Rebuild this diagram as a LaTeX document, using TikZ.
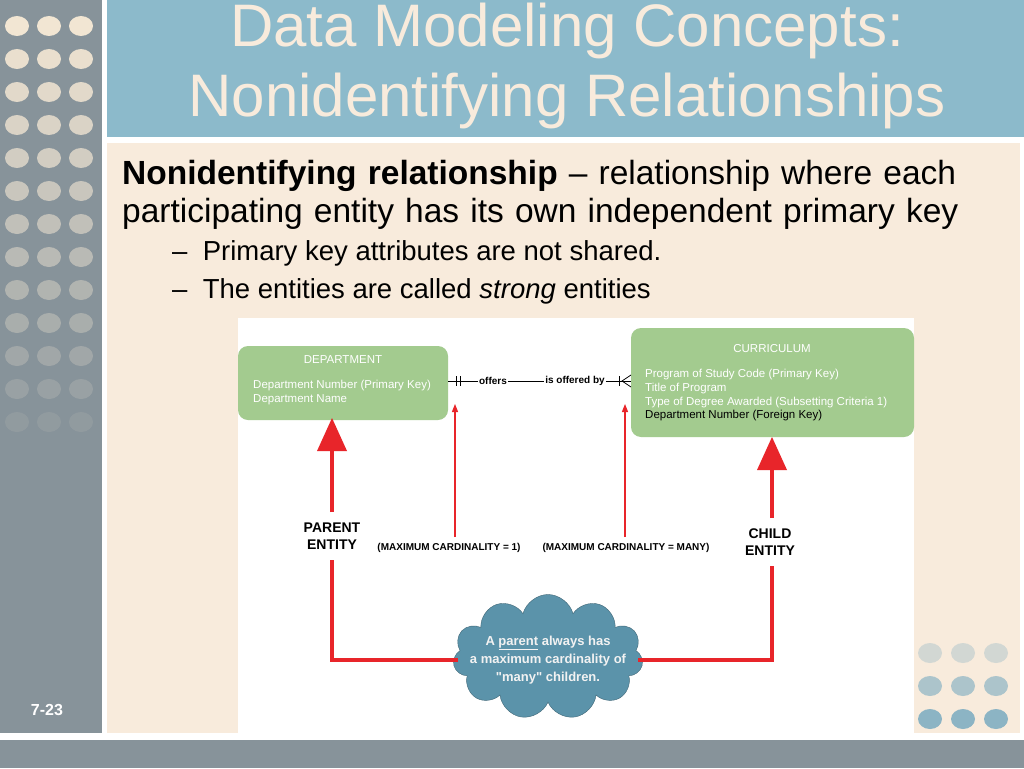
\documentclass[tikz,border=0pt]{standalone}
\usepackage{fontspec}
\setmainfont{Liberation Sans}
\usetikzlibrary{shapes.symbols,arrows.meta}
\definecolor{side}{HTML}{87939A}
\definecolor{band}{HTML}{8CBACB}
\definecolor{paper}{HTML}{F8EBDC}
\definecolor{ent}{HTML}{A3CB8F}
\definecolor{cloudc}{HTML}{5B93AA}
\definecolor{arr}{HTML}{E8252A}
\definecolor{dot}{HTML}{F2E6D3}
\tikzset{
 entbox/.style={fill=ent,rounded corners=10pt,draw=none},
 thick arr/.style={draw=arr,line width=4pt},
 thin arr/.style={draw=arr,line width=1.2pt,-{Triangle[length=8pt,width=6pt]}},
 lbl/.style={font=\bfseries\fontsize{14pt}{17pt}\selectfont,align=center,inner sep=1pt},
 small/.style={font=\bfseries\fontsize{10pt}{11pt}\selectfont,inner sep=1pt},
 etxt/.style={font=\fontsize{11.5pt}{13.8pt}\selectfont,text=white,align=left,inner sep=0pt},
}
\begin{document}
\begin{tikzpicture}[x=1pt,y=-1pt]
\useasboundingbox (0,0) rectangle (1024,768);
\fill[white] (0,0) rectangle (1024,768);
\fill[side] (0,0) rectangle (102,733);
\fill[band] (107,0) rectangle (1024,137);
\fill[paper] (107,143) rectangle (1020,733);
\fill[side] (0,740) rectangle (1024,768);
\foreach \r in {0,...,12}{
 \pgfmathsetmacro{\op}{max(0,1-\r*0.075)}
 \foreach \c in {17,49,81}{
  \fill[dot,opacity=\op] (\c,26+\r*33) ellipse (12pt and 10pt);
 }}
\foreach \r/\op in {0/0.35,1/0.7,2/1}{
 \foreach \c in {930,963,996}{
  \fill[cloudc!70!white,opacity=\op] (\c,653+\r*33) ellipse (12pt and 10pt);
 }}
\node[text=white] (pg) at (47,710) {\bfseries\fontsize{16pt}{18pt}\selectfont 7-23};
\node[text=paper,align=center,font=\fontsize{60pt}{70pt}\selectfont] (title) at (567,66) {Data Modeling Concepts:\\Nonidentifying Relationships};
\node[anchor=north west,align=left,text width=870pt,font=\fontsize{33.5pt}{38pt}\selectfont,inner sep=0pt] (body) at (122,160)
 {\raggedright\textbf{Nonidentifying relationship} -- relationship where each\\participating entity has its own independent primary key};
\node[anchor=north west,font=\fontsize{27.5pt}{30pt}\selectfont,inner sep=0pt] (b1) at (172,240) {--\ \ Primary key attributes are not shared.};
\node[anchor=north west,font=\fontsize{27.5pt}{30pt}\selectfont,inner sep=0pt] (b2) at (172,278) {--\ \ The entities are called \textit{strong} entities};
\fill[white] (238,318) rectangle (914,733);
\fill[entbox] (238,346) rectangle (448,420);
\fill[entbox] (631,328) rectangle (914,437);
\node[etxt] (dh) at (343,360) {DEPARTMENT};
\node[etxt,anchor=north west] (dt) at (253,380) {Department Number (Primary Key)\\Department Name};
\node[etxt] (ch) at (772,349) {CURRICULUM};
\node[etxt,anchor=north west] (ct) at (645,369) {Program of Study Code (Primary Key)\\Title of Program\\Type of Degree Awarded (Subsetting Criteria 1)\\\textcolor{black}{Department Number (Foreign Key)}};
\coordinate (dr) at (448,381);
\coordinate (cl) at (631,381);
\node[small] (off) at (493,381) {offers};
\node[small] (iob) at (575,381) {is offered by};
\draw[line width=0.8pt] (dr) -- (off.west) (off.east) -- (iob.west) (iob.east) -- (cl);
\draw[line width=0.8pt] (456,376) -- (456,386) (460,376) -- (460,386) (619,376) -- (619,386);
\draw[line width=0.8pt] (631,375) -- (622,381) -- (631,387);
\node[cloud,cloud puffs=11,aspect=1.6,fill=cloudc,draw=cloudc!70!black,minimum width=190pt,minimum height=125pt] (cl1) at (548,657) {};
\node[lbl,text=white!95!black,font=\bfseries\fontsize{13pt}{18pt}\selectfont] (ct1) at (548,660) {A \underline{parent} always has\\a maximum cardinality of\\\textquotedbl many\textquotedbl{} children.};
\node[lbl] (pe) at (332,536) {PARENT\\ENTITY};
\node[lbl] (ce) at (770,542) {CHILD\\ENTITY};
\node[small] (m1) at (449,548) {(MAXIMUM CARDINALITY = 1)};
\node[small] (m2) at (626,548) {(MAXIMUM CARDINALITY = MANY)};
\draw[thick arr] (458,660) -- (332,660) -- (332,560);
\draw[thick arr] (332,512) -- (332,450);
\fill[arr] (332,418) -- (317,451) -- (347,451) -- cycle;
\draw[thick arr] (638,660) -- (772,660) -- (772,566);
\draw[thick arr] (772,518) -- (772,468);
\fill[arr] (772,437) -- (757,470) -- (787,470) -- cycle;
\draw[thin arr] (455,537) -- (455,404);
\draw[thin arr] (625,537) -- (625,404);
\end{tikzpicture}
\end{document}
